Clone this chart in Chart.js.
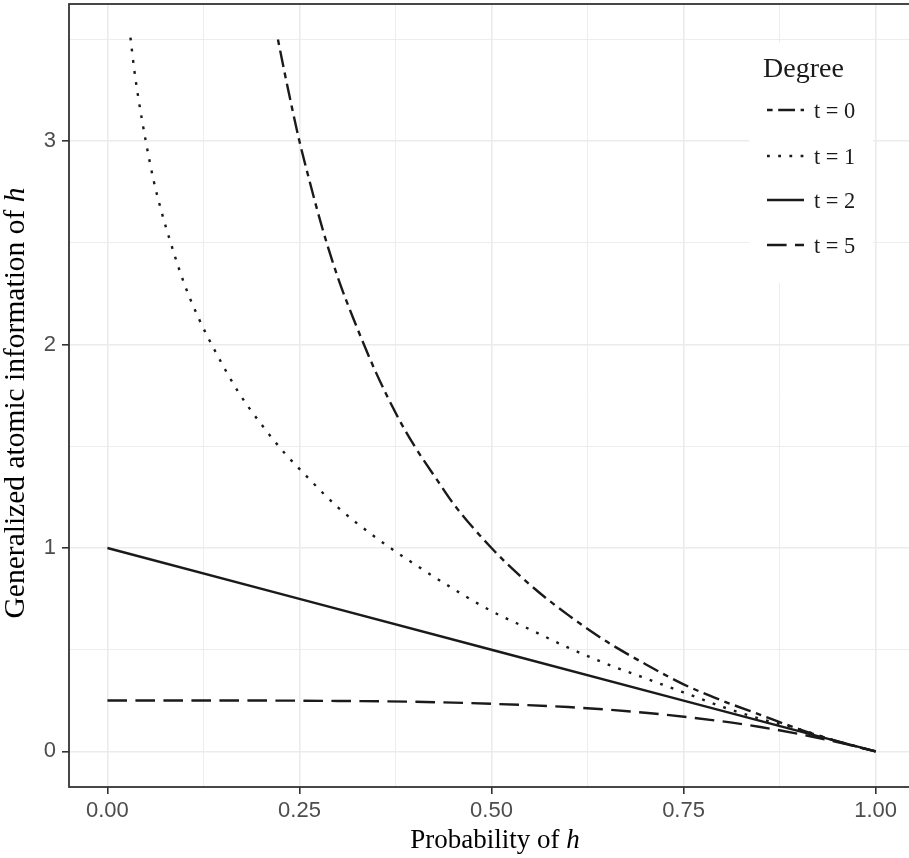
<!DOCTYPE html>
<html>
<head>
<meta charset="utf-8">
<script src="https://cdn.jsdelivr.net/npm/chart.js@4/dist/chart.umd.min.js"></script>
<style>
  html, body { margin: 0; padding: 0; background: #fff; overflow: hidden; }
  #wrap { width: 920px; height: 858px; }
</style>
</head>
<body>
<div id="wrap"><canvas id="c" width="920" height="858"></canvas></div>
<script>
// ---- data ----
const seriesLabels = ['t = 0', 't = 1', 't = 2', 't = 5'];

const probT0 = [0.222, 0.23, 0.24, 0.25, 0.26, 0.28, 0.30, 0.32, 0.35, 0.38, 0.40, 0.43, 0.45, 0.50, 0.55, 0.60, 0.65, 0.70, 0.75, 0.80, 0.85, 0.90, 0.95, 1.00];
const infoT0 = [3.50, 3.35, 3.17, 3.00, 2.85, 2.57, 2.33, 2.13, 1.86, 1.63, 1.50, 1.33, 1.22, 1.00, 0.82, 0.67, 0.54, 0.43, 0.33, 0.25, 0.18, 0.11, 0.05, 0.00];

const probT1 = [0.030, 0.035, 0.04, 0.05, 0.06, 0.07, 0.08, 0.10, 0.12, 0.14, 0.17, 0.20, 0.23, 0.26, 0.30, 0.35, 0.40, 0.45, 0.50, 0.55, 0.60, 0.65, 0.70, 0.75, 0.80, 0.85, 0.90, 0.95, 1.00];
const infoT1 = [3.51, 3.35, 3.22, 3.00, 2.81, 2.66, 2.53, 2.30, 2.12, 1.97, 1.77, 1.61, 1.47, 1.35, 1.20, 1.05, 0.92, 0.80, 0.69, 0.60, 0.51, 0.43, 0.36, 0.29, 0.22, 0.16, 0.11, 0.05, 0.00];

const probT2 = [0.00, 0.50, 1.00];
const infoT2 = [1.00, 0.50, 0.00];

const probT5 = [0.00, 0.20, 0.30, 0.40, 0.50, 0.60, 0.70, 0.80, 0.85, 0.90, 0.95, 1.00];
const infoT5 = [0.250, 0.250, 0.248, 0.244, 0.234, 0.218, 0.190, 0.148, 0.120, 0.086, 0.046, 0.000];

const xTickValues = [0, 0.25, 0.5, 0.75, 1];
const xTickLabels = ['0.00', '0.25', '0.50', '0.75', '1.00'];
const xMinorValues = [0.125, 0.375, 0.625, 0.875];
const yTickValues = [0, 1, 2, 3];
const yTickLabels = ['0', '1', '2', '3'];
const yMinorValues = [0.5, 1.5, 2.5, 3.5];

const xTitle = ['Probability of ', 'h'];
const yTitle = ['Generalized atomic information of ', 'h'];
const legendTitle = 'Degree';

// ---- styles ----
const U = 2.8;
const LW = 2.4;
const dashes = [[2*U, 2*U, 6*U, 2*U], [1*U, 3*U], [], [7*U, 3*U]];
const INK = '#1a1a1a';

function pts(xs, ys) { return xs.map((x, i) => ({ x: x, y: ys[i] })); }

const seriesData = [pts(probT0, infoT0), pts(probT1, infoT1), pts(probT2, infoT2), pts(probT5, infoT5)];

const datasets = seriesData.map((d, i) => ({
  label: seriesLabels[i],
  data: d,
  borderColor: INK,
  borderWidth: LW,
  borderDash: dashes[i],
  borderCapStyle: 'butt',
  pointRadius: 0,
  fill: false,
  cubicInterpolationMode: 'monotone'
}));

function isIn(v, arr) { return arr.some(a => Math.abs(a - v) < 1e-9); }

function drawMixed(ctx, parts, cx, cy, size) {
  const fonts = [size + 'px "Liberation Serif", "Times New Roman", serif',
                 'italic ' + size + 'px "Liberation Serif", "Times New Roman", serif'];
  let widths = parts.map((t, i) => { ctx.font = fonts[i]; return ctx.measureText(t).width; });
  const total = widths.reduce((a, b) => a + b, 0);
  let x = cx - total / 2;
  ctx.textAlign = 'left';
  ctx.textBaseline = 'alphabetic';
  parts.forEach((t, i) => { ctx.font = fonts[i]; ctx.fillText(t, x, cy); x += widths[i]; });
}

const decor = {
  id: 'decor',
  afterDraw(chart) {
    const ctx = chart.ctx, a = chart.chartArea;
    ctx.save();
    // legend box
    ctx.fillStyle = '#ffffff';
    ctx.fillRect(749, 43, 124, 240);
    ctx.fillStyle = INK;
    ctx.font = '28px "Liberation Serif", "Times New Roman", serif';
    ctx.textAlign = 'left';
    ctx.textBaseline = 'alphabetic';
    ctx.fillText(legendTitle, 763, 77);
    const rows = [110, 156, 200, 245];
    ctx.font = '22.4px "Liberation Serif", "Times New Roman", serif';
    seriesLabels.forEach((lab, i) => {
      ctx.beginPath();
      ctx.setLineDash(dashes[i]);
      ctx.lineDashOffset = 0;
      ctx.lineCap = 'butt';
      ctx.lineWidth = LW;
      ctx.strokeStyle = INK;
      ctx.moveTo(767, rows[i]);
      ctx.lineTo(804, rows[i]);
      ctx.stroke();
      ctx.setLineDash([]);
      ctx.fillStyle = INK;
      ctx.fillText(lab, 814, rows[i] + 7.5);
    });
    // panel border
    ctx.strokeStyle = '#333333';
    ctx.lineWidth = 1.8;
    ctx.strokeRect(a.left, a.top, a.right - a.left, a.bottom - a.top);
    // axis titles
    ctx.fillStyle = '#000000';
    drawMixed(ctx, xTitle, 495, 848, 27);
    ctx.translate(24, 403);
    ctx.rotate(-Math.PI / 2);
    drawMixed(ctx, yTitle, 0, 0, 29.5);
    ctx.restore();
  }
};

const tickFont = { family: '"Liberation Sans", Arial, Helvetica, sans-serif', size: 22 };

new Chart(document.getElementById('c'), {
  type: 'line',
  data: { datasets: datasets },
  plugins: [decor],
  options: {
    responsive: false,
    animation: false,
    devicePixelRatio: 1,
    layout: { padding: { left: 0, right: 6, top: 4, bottom: 0 } },
    plugins: { legend: { display: false }, tooltip: { enabled: false } },
    scales: {
      x: {
        type: 'linear',
        min: -0.05, max: 1.05,
        border: { display: false },
        afterBuildTicks(s) { s.ticks = xTickValues.concat(xMinorValues).sort((p, q) => p - q).map(v => ({ value: v })); },
        afterFit(s) { s.height = 71; s.paddingLeft = 0; s.paddingRight = 0; },
        grid: {
          color: '#EBEBEB',
          lineWidth: c => isIn(c.tick.value, xTickValues) ? 1.6 : 0.9,
          drawTicks: true,
          tickLength: 7,
          tickWidth: 1.6,
          tickColor: c => isIn(c.tick.value, xTickValues) ? '#333333' : 'rgba(0,0,0,0)'
        },
        ticks: {
          autoSkip: false, maxRotation: 0, minRotation: 0, padding: 4,
          color: '#4D4D4D', font: tickFont,
          callback(v) { const i = xTickValues.findIndex(t => Math.abs(t - v) < 1e-9); return i >= 0 ? xTickLabels[i] : ''; }
        }
      },
      y: {
        type: 'linear',
        min: -0.175, max: 3.675,
        border: { display: false },
        afterBuildTicks(s) { s.ticks = yTickValues.concat(yMinorValues).sort((p, q) => p - q).map(v => ({ value: v })); },
        afterFit(s) { s.width = 69; s.paddingTop = 0; s.paddingBottom = 0; },
        grid: {
          color: '#EBEBEB',
          lineWidth: c => isIn(c.tick.value, yTickValues) ? 1.6 : 0.9,
          drawTicks: true,
          tickLength: 7,
          tickWidth: 1.6,
          tickColor: c => isIn(c.tick.value, yTickValues) ? '#333333' : 'rgba(0,0,0,0)'
        },
        ticks: {
          autoSkip: false, padding: 6,
          color: '#4D4D4D', font: tickFont,
          callback(v) { const i = yTickValues.findIndex(t => Math.abs(t - v) < 1e-9); return i >= 0 ? yTickLabels[i] : ''; }
        }
      }
    }
  }
});
</script>
</body>
</html>
